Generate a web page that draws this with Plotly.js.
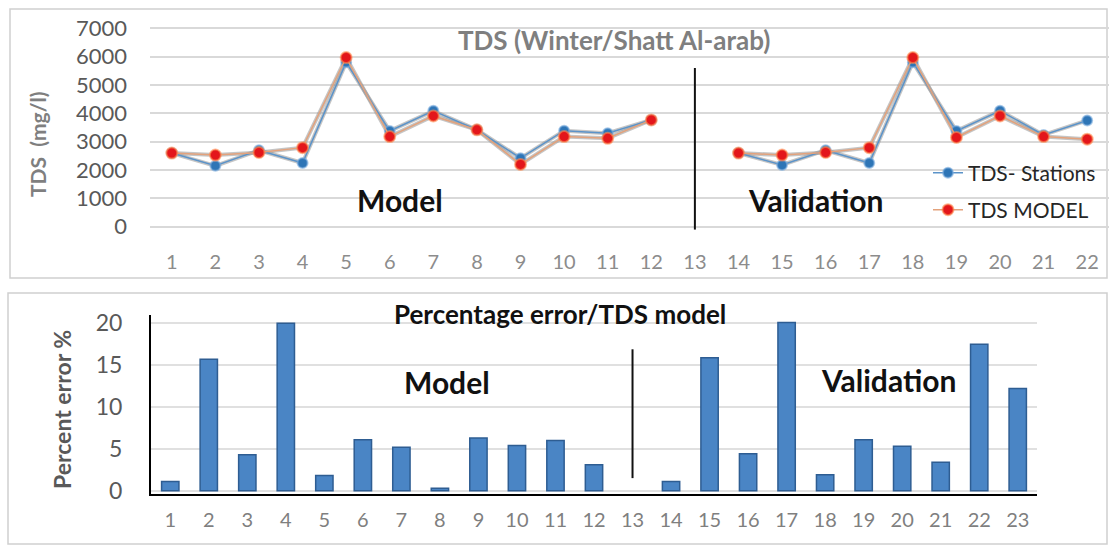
<!DOCTYPE html>
<html>
<head>
<meta charset="utf-8">
<script src="https://cdn.plot.ly/plotly-3.0.1.min.js"></script>
<style>html,body{margin:0;padding:0;background:#fff;}#chart{width:1110px;height:545px;}</style>
</head>
<body>
<div id="chart"></div>
<script>
// ---- data ----
const stations = [1,2,3,4,5,6,7,8,9,10,11,12,13,14,15,16,17,18,19,20,21,22];
const tdsStations = [2600,2150,2700,2250,5800,3380,4090,3420,2420,3390,3300,3770,null,2600,2180,2700,2250,5800,3380,4090,3240,3750];
const tdsModel    = [2600,2530,2620,2790,5970,3180,3910,3420,2200,3180,3120,3770,null,2600,2530,2620,2790,5970,3150,3910,3180,3090];
const errStations = [1,2,3,4,5,6,7,8,9,10,11,12,13,14,15,16,17,18,19,20,21,22,23];
const percentError = [1.1,15.7,4.3,20.0,1.8,6.1,5.2,0.3,6.3,5.4,6.0,3.1,null,1.1,15.9,4.4,20.1,1.9,6.1,5.3,3.4,17.5,12.2];
const splitStation = 13;
const topTitle = 'TDS (Winter/Shatt Al-arab)';
const bottomTitle = 'Percentage error/TDS model';

const W = 1110, H = 545;
const px = x => x / W;
const py = y => (H - y) / H;
const FONT = 'Lato, "Open Sans", sans-serif';

const traces = [
  {x: stations, y: tdsStations, type: 'scatter', mode: 'lines', xaxis: 'x', yaxis: 'y',
   line: {color: 'rgba(150,150,150,0.55)', width: 4}, showlegend: false, hoverinfo: 'skip', connectgaps: false},
  {x: stations, y: tdsModel, type: 'scatter', mode: 'lines', xaxis: 'x', yaxis: 'y',
   line: {color: 'rgba(150,150,150,0.55)', width: 4}, showlegend: false, hoverinfo: 'skip', connectgaps: false},
  {x: stations, y: tdsStations, type: 'scatter', mode: 'lines+markers', name: 'TDS- Stations', xaxis: 'x', yaxis: 'y',
   line: {color: '#5b93c9', width: 1.5}, marker: {color: '#2e75b6', size: 10, line: {color: 'rgba(120,170,220,0.6)', width: 2}},
   connectgaps: false, legend: 'legend'},
  {x: stations, y: tdsModel, type: 'scatter', mode: 'lines+markers', name: 'TDS MODEL', xaxis: 'x', yaxis: 'y',
   line: {color: '#e3a27c', width: 1.5}, marker: {color: '#e3161b', size: 11, line: {color: 'rgba(255,140,80,0.6)', width: 2}},
   connectgaps: false, legend: 'legend2'},
  {x: errStations, y: percentError, type: 'bar', xaxis: 'x2', yaxis: 'y2', showlegend: false,
   marker: {color: '#4a85c5', line: {color: '#2e5d92', width: 1.5}}, width: 0.45}
];

function note(text, x, y, size, color, angle) {
  return {text: text, xref: 'paper', yref: 'paper', x: px(x), y: py(y), xanchor: 'center', yanchor: 'middle',
          showarrow: false, textangle: angle || 0, font: {size: size, color: color, family: FONT}};
}

const layout = {
  width: W, height: H,
  margin: {l: 0, r: 0, t: 0, b: 0},
  paper_bgcolor: '#ffffff', plot_bgcolor: 'rgba(0,0,0,0)',
  font: {family: FONT, color: '#595959'},
  xaxis: {
    domain: [px(150), px(1109)], anchor: 'y', range: [0.5, 22.5],
    tickmode: 'array', tickvals: stations, ticktext: stations.map(String),
    showgrid: false, zeroline: false, showline: false, ticks: '',
    tickfont: {size: 20, color: '#8c8c8c', family: FONT}, ticklabelstandoff: 17
  },
  yaxis: {
    domain: [py(231), py(17)], anchor: 'x', range: [-150, 7400],
    tickmode: 'array', tickvals: [0,1000,2000,3000,4000,5000,6000,7000],
    showgrid: true, gridcolor: '#d9d9d9', gridwidth: 2, zeroline: false, showline: false, ticks: '',
    tickfont: {size: 22, color: '#595959', family: FONT}, ticklabelstandoff: 22
  },
  xaxis2: {
    domain: [px(151), px(1037)], anchor: 'y2', range: [0.5, 23.5],
    tickmode: 'array', tickvals: errStations, ticktext: errStations.map(String),
    showgrid: false, zeroline: false, showline: true, linecolor: '#000', linewidth: 2, ticks: '',
    tickfont: {size: 20, color: '#7f7f7f', family: FONT}, ticklabelstandoff: 7
  },
  yaxis2: {
    domain: [py(494), py(315)], anchor: 'x2', range: [-0.4, 21],
    tickmode: 'array', tickvals: [0,5,10,15,20],
    showgrid: true, gridcolor: '#e0e0e0', gridwidth: 2, zeroline: false, showline: true, linecolor: '#000', linewidth: 2, ticks: '',
    tickfont: {size: 23, color: '#595959', family: FONT}, ticklabelstandoff: 22
  },
  legend: {x: px(928), y: py(173), xanchor: 'left', yanchor: 'middle', bgcolor: 'rgba(0,0,0,0)',
           font: {size: 21, color: '#262626', family: FONT}},
  legend2: {x: px(928), y: py(210), xanchor: 'left', yanchor: 'middle', bgcolor: 'rgba(0,0,0,0)',
           font: {size: 21, color: '#262626', family: FONT}},
  shapes: [
    {type: 'rect', xref: 'paper', yref: 'paper', x0: px(10), x1: px(1107), y0: py(278), y1: py(9),
     line: {color: '#d0d0d0', width: 1.5}, layer: 'below'},
    {type: 'rect', xref: 'paper', yref: 'paper', x0: px(8), x1: px(1107), y0: py(544), y1: py(293),
     line: {color: '#d0d0d0', width: 1.5}, layer: 'below'},
    {type: 'line', xref: 'x', yref: 'y', x0: splitStation, x1: splitStation, y0: -100, y1: 5600,
     line: {color: '#111', width: 2}},
    {type: 'line', xref: 'x2', yref: 'y2', x0: splitStation, x1: splitStation, y0: 1.5, y1: 16.9,
     line: {color: '#111', width: 2}}
  ],
  annotations: [
    note('<b>' + topTitle + '</b>', 614, 40, 26, '#7f7f7f'),
    note('<b>TDS  (mg/l)</b>', 38, 145, 21, '#7f7f7f', -90),
    note('<b>Model</b>', 400, 200, 30, '#111'),
    note('<b>Validation</b>', 815, 200, 30, '#111'),
    note('<b>' + bottomTitle + '</b>', 560, 314, 26, '#111'),
    note('<b>Percent error %</b>', 62, 410, 23, '#595959', -90),
    note('<b>Model</b>', 447, 382, 30, '#111'),
    note('<b>Validation</b>', 888, 380, 30, '#111')
  ]
};

Plotly.newPlot('chart', traces, layout, {staticPlot: true, displayModeBar: false});
</script>
</body>
</html>
